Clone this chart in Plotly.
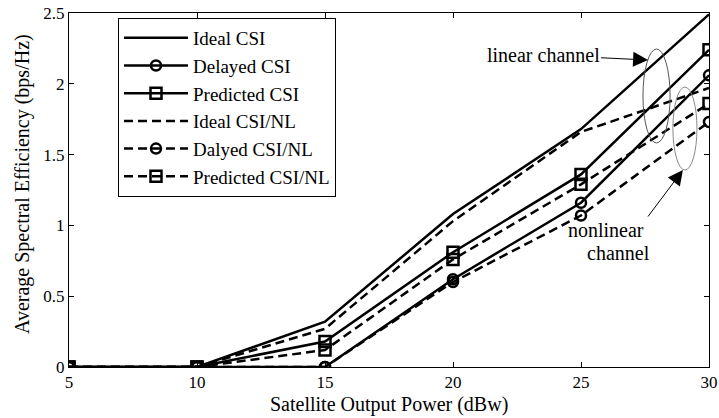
import plotly.graph_objects as go

power = [5, 10, 15, 20, 25, 30]
ideal = [0, 0, 0.32, 1.08, 1.68, 2.49]
delayed = [0, 0, 0, 0.62, 1.16, 2.06]
predicted = [0, 0, 0.18, 0.81, 1.36, 2.24]
ideal_nl = [0, 0, 0.27, 1.03, 1.66, 1.97]
delayed_nl = [0, 0, 0, 0.60, 1.07, 1.73]
predicted_nl = [0, 0, 0.12, 0.76, 1.29, 1.86]

names = ["Ideal CSI", "Delayed CSI", "Predicted CSI",
         "Ideal CSI/NL", "Dalyed CSI/NL", "Predicted CSI/NL"]
series = [ideal, delayed, predicted, ideal_nl, delayed_nl, predicted_nl]
symbols = [None, "circle-open", "square-open", None, "circle-open", "square-open"]
dashes = ["solid", "solid", "solid", "9px,5px", "9px,5px", "9px,5px"]

FONT = "Liberation Serif, Times New Roman, serif"

fig = go.Figure()
for name, ys, sym, dash in zip(names, series, symbols, dashes):
    kw = dict(x=power, y=ys, name=name,
              line=dict(color="black", width=2.5, dash=dash))
    if sym:
        kw["mode"] = "lines+markers"
        kw["marker"] = dict(symbol=sym, size=11 if "square" in sym else 10,
                            color="black", line=dict(color="black", width=2.5))
    else:
        kw["mode"] = "lines"
    fig.add_trace(go.Scatter(**kw))

axis_common = dict(showline=True, linecolor="black", linewidth=1, mirror="ticks",
                   ticks="inside", ticklen=5, tickcolor="black", showgrid=False,
                   zeroline=False, automargin=False, ticklabeloverflow="allow",
                   tickfont=dict(family=FONT, size=17, color="black"))

fig.update_layout(
    width=719, height=418,
    margin=dict(l=69, r=10, t=13, b=51),
    paper_bgcolor="white", plot_bgcolor="white",
    font=dict(family=FONT, size=20, color="black"),
    xaxis=dict(range=[5, 30], tickvals=power, **axis_common),
    yaxis=dict(range=[0, 2.5], tickvals=[0, 0.5, 1, 1.5, 2, 2.5],
               ticktext=["0", "0.5", "1", "1.5", "2", "2.5"], **axis_common),
    legend=dict(x=(118 - 69) / 640, y=0.986, xanchor="left", yanchor="top",
                bgcolor="white", bordercolor="black", borderwidth=1,
                font=dict(family=FONT, size=19, color="black"),
                itemwidth=64, tracegroupgap=0),
    showlegend=True,
)

# axis titles
fig.add_annotation(x=0.5, y=-(404 - 367) / 354, xref="paper", yref="paper",
                   text="Satellite Output Power (dBw)", showarrow=False,
                   yanchor="middle", font=dict(family=FONT, size=20, color="black"))
fig.add_annotation(x=(22 - 69) / 640, y=(367 - 184) / 354, xref="paper", yref="paper",
                   text="Average Spectral Efficiency (bps/Hz)", showarrow=False,
                   textangle=-90, xanchor="center", yanchor="middle",
                   font=dict(family=FONT, size=20, color="black"))

# ellipses
fig.add_shape(type="circle", xref="x", yref="y", x0=27.42, x1=28.48, y0=1.582, y1=2.246,
              line=dict(color="#555555", width=1))
fig.add_shape(type="circle", xref="x", yref="y", x0=28.59, x1=29.53, y0=1.391, y1=1.977,
              line=dict(color="#888888", width=1))

fig.add_annotation(x=27.62, y=2.168, xref="x", yref="y", text="linear channel",
                   showarrow=True, ax=-105, ay=-5, arrowhead=2, arrowsize=3,
                   arrowwidth=1, arrowcolor="black",
                   font=dict(family=FONT, size=20, color="black"))
fig.add_annotation(x=28.98, y=1.391, xref="x", yref="y", text="",
                   showarrow=True, ax=-36, ay=48, arrowhead=2, arrowsize=3,
                   arrowwidth=1, arrowcolor="black")
fig.add_annotation(x=(606 - 69) / 25.6 + 5, y=(367 - 230) / 141.6, xref="x", yref="y",
                   text="nonlinear", showarrow=False,
                   font=dict(family=FONT, size=20, color="black"))
fig.add_annotation(x=(618 - 69) / 25.6 + 5, y=(367 - 253) / 141.6, xref="x", yref="y",
                   text="channel", showarrow=False,
                   font=dict(family=FONT, size=20, color="black"))

# remove the default 8px page margin so the figure fills the window exactly
fig.write_html("out.html", config={"displayModeBar": False},
               post_script="document.body.style.margin='0';document.body.style.overflow='hidden';")
